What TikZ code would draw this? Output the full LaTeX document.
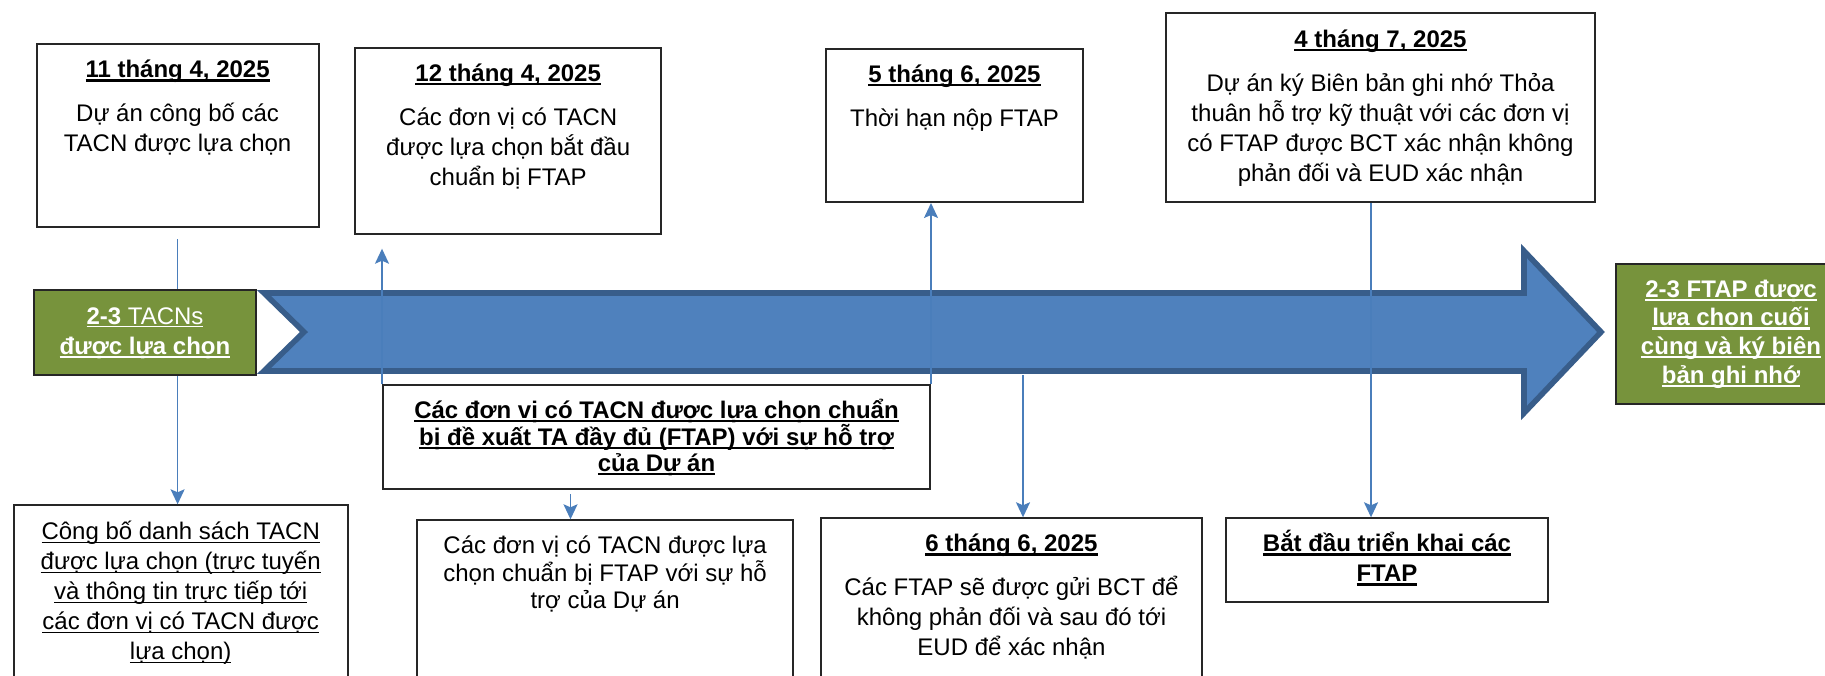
\documentclass[tikz,border=0pt]{standalone}
\usepackage{fontspec}
\setmainfont{Liberation Sans}
\usetikzlibrary{arrows.meta, positioning}
\usepackage{xcolor}

\definecolor{arrowfill}{HTML}{4F81BD}
\definecolor{arrowline}{HTML}{385D8A}
\definecolor{linkblue}{HTML}{4A7EBB}
\definecolor{leafgreen}{HTML}{77933C}

\newlength\ulwd
\newcommand{\uln}[1]{\settowidth{\ulwd}{#1}\rlap{\rule[-1.6pt]{\ulwd}{0.7pt}}#1}
\newcommand{\ulb}[1]{\settowidth{\ulwd}{\bfseries #1}\rlap{\rule[-1.9pt]{\ulwd}{1.1pt}}{\bfseries #1}}
\newcommand{\topst}{\rule{0pt}{12.5pt}}

\begin{document}
\begin{tikzpicture}[
    x=0.5pt, y=-0.5pt,
    every node/.style={font=\fontsize{12}{15}\selectfont},
    notebox/.style ={rectangle, draw=black!85, line width=1pt, fill=white,
                     anchor=north west, inner sep=0pt},
    txt/.style     ={align=center, inner sep=0pt},
    greenbox/.style={rectangle, draw=black!85, line width=1pt, fill=leafgreen,
                     text=white, align=center, anchor=north west, inner sep=0pt},
    arr/.style     ={-{Stealth[length=7.5pt, width=7pt, inset=1.5pt]}, draw=linkblue, line width=0.8pt},
]
\useasboundingbox (0,0) rectangle (1825,675);
\clip (0,0) rectangle (1825,675);

% ── Timeline arrow ───────────────────────────────────────────
\draw[fill=arrowfill, draw=arrowline, line width=2.8pt]
    (264,293) -- (1524,293) -- (1524,251) -- (1601,332) -- (1524,413)
    -- (1524,371) -- (264,371) -- (304,332) -- cycle;

% ── Top row ──────────────────────────────────────────────────
\node[notebox, minimum width=141pt,   minimum height=91.5pt]  (d0411) at (35.6,43.3) {};
\node[notebox, minimum width=152.9pt, minimum height=92.85pt] (d0412) at (354.3,47) {};
\node[notebox, minimum width=128.9pt, minimum height=76.5pt]  (d0506) at (824.6,48) {};
\node[notebox, minimum width=214.5pt, minimum height=94.5pt]  (d0407) at (1165,12) {};

\node[txt, below=4.5pt of d0411.north] (t0411) {\topst\ulb{11 tháng 4, 2025}\\[7pt]
    Dự án công bố các\\ TACN được lựa chọn};
\node[txt, below=4.5pt of d0412.north] (t0412) {\topst\ulb{12 tháng 4, 2025}\\[7pt]
    Các đơn vị có TACN\\ được lựa chọn bắt đầu\\ chuẩn bị FTAP};
\node[txt, below=4.5pt of d0506.north] (t0506) {\topst\ulb{5 tháng 6, 2025}\\[7pt]
    Thời hạn nộp FTAP};
\node[txt, below=5pt of d0407.north]   (t0407) {\topst\ulb{4 tháng 7, 2025}\\[7pt]
    Dự án ký Biên bản ghi nhớ Thỏa\\ thuân hỗ trợ kỹ thuật với các đơn vị\\
    có FTAP được BCT xác nhận không\\ phản đối và EUD xác nhận};

% ── Middle and bottom rows ───────────────────────────────────
\node[notebox, minimum width=273.5pt, minimum height=52pt]  (fullprop) at (382,384) {};
\node[notebox, minimum width=167pt,   minimum height=90pt]  (publist)  at (12.7,504.3) {};
\node[notebox, minimum width=187.7pt, minimum height=90pt]  (prepare)  at (416.4,519.3) {};
\node[notebox, minimum width=190.5pt, minimum height=90pt]  (d0606)    at (820,517.3) {};
\node[notebox, minimum width=161pt,   minimum height=42pt]  (start)    at (1225,517.3) {};

\node[txt, below=4.5pt of fullprop.north, font=\fontsize{12}{13.3}\selectfont] (tfull)
    {\topst\ulb{Các đơn vị có TACN được lựa chọn chuẩn}\\
    \ulb{bị đề xuất TA đầy đủ (FTAP) với sự hỗ trợ}\\ \ulb{của Dự án}};
\node[txt, below=5pt of publist.north] (tpub)
    {\topst\uln{Công bố danh sách TACN}\\ \uln{được lựa chọn (trực tuyến}\\
    \uln{và thông tin trực tiếp tới}\\ \uln{các đơn vị có TACN được}\\ \uln{lựa chọn)}};
\node[txt, below=4.5pt of prepare.north, font=\fontsize{12}{13.8}\selectfont] (tprep)
    {\topst Các đơn vị có TACN được lựa\\ chọn chuẩn bị FTAP với sự hỗ\\ trợ của Dự án};
\node[txt, below=4.5pt of d0606.north] (t0606) {\topst\ulb{6 tháng 6, 2025}\\[7pt]
    Các FTAP sẽ được gửi BCT để\\ không phản đối và sau đó tới\\ EUD để xác nhận};
\node[txt, below=4.5pt of start.north] (tstart)
    {\topst\ulb{Bắt đầu triển khai các}\\ \ulb{FTAP}};

% ── Connectors ───────────────────────────────────────────────
\coordinate (bandlow) at (1023,375);
\draw[arr] ([yshift=-5.5pt]d0411.south) -- (d0411.south |- publist.north);
\draw[arr, shorten >=7pt] (fullprop.north west) -- (fullprop.north west |- d0412.south);
\draw[arr] (fullprop.north east) -- (fullprop.north east |- d0506.south);
\draw[arr] (bandlow) -- (bandlow |- d0606.north);
\draw[arr] ([xshift=-43pt,yshift=-2pt]fullprop.south) -- ([xshift=-43pt]fullprop.south |- prepare.north);
\draw[arr] ([xshift=-4.75pt]d0407.south) -- ([xshift=-4.75pt]d0407.south |- start.north);

% ── Start / end markers ──────────────────────────────────────
\node[greenbox, minimum width=111pt, minimum height=42.5pt] (tacnsel) at (33,289.3)
    {\uln{\textbf{2-3} TACNs}\\ \ulb{được lựa chọn}};
\node[greenbox, minimum width=115pt, minimum height=70.3pt,
      font=\fontsize{12}{14.3}\selectfont] (ftapsel) at (1615,262.7)
    {\ulb{2-3 FTAP được}\\ \ulb{lựa chọn cuối}\\ \ulb{cùng và ký biên}\\ \ulb{bản ghi nhớ}};

\end{tikzpicture}
\end{document}
